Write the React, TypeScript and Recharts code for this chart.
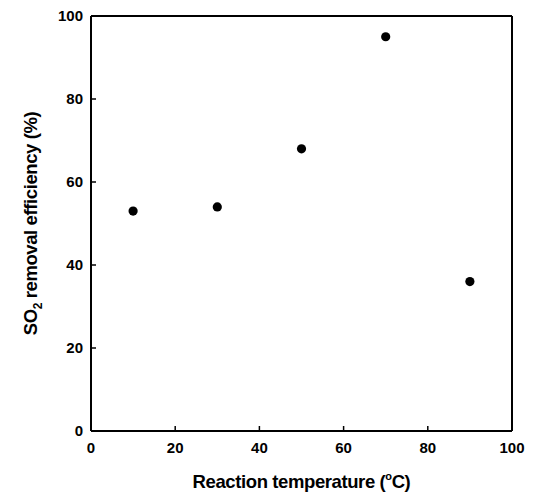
import React from 'react';
import { ScatterChart, Scatter, XAxis, YAxis, ReferenceLine, Label } from 'recharts';

const temperatures = [10, 30, 50, 70, 90];
const efficiencies = [53, 54, 68, 95, 36];
const xTicks = [0, 20, 40, 60, 80, 100];
const yTicks = [0, 20, 40, 60, 80, 100];

const data = temperatures.map((t, i) => ({ t, e: efficiencies[i] }));

const FONT = '"Liberation Sans", Arial, sans-serif';
const tickStyle = { fill: '#000', fontSize: 15, fontWeight: 700, fontFamily: FONT };

const Dot = (props: any) => {
  const { cx, cy } = props;
  return <circle cx={cx} cy={cy} r={4.6} fill="#000" />;
};

const XTitle = (props: any) => {
  const vb = props.viewBox;
  const cx = vb.x + vb.width / 2;
  const y = vb.y + 57;
  return (
    <text x={cx} y={y} textAnchor="middle" fontFamily={FONT} fontWeight={700} fontSize={18.5} fill="#000" letterSpacing={-0.4}>
      Reaction temperature (
      <tspan fontSize={11} dy={-8}>o</tspan>
      <tspan dy={8}>C)</tspan>
    </text>
  );
};

const YTitle = (props: any) => {
  const vb = props.viewBox;
  const x = 37;
  const cy = vb.y + vb.height / 2;
  return (
    <text x={x} y={cy} textAnchor="middle" transform={`rotate(-90, ${x}, ${cy})`} fontFamily={FONT} fontWeight={700} fontSize={18.5} fill="#000" letterSpacing={-0.4}>
      SO
      <tspan fontSize={12} dy={5}>2</tspan>
      <tspan dy={-5}> removal efficiency (%)</tspan>
    </text>
  );
};

export default function App() {
  return (
    <div style={{ position: 'absolute', left: 0, top: 0, background: '#fff' }}>
      <ScatterChart width={534} height={496} margin={{ top: 16, right: 22, bottom: 0, left: 0 }}>
        <XAxis
          type="number"
          dataKey="t"
          domain={[0, 100]}
          ticks={xTicks}
          height={65}
          axisLine={{ stroke: '#000', strokeWidth: 2 }}
          tickLine={{ stroke: '#000', strokeWidth: 1.5 }}
          tickSize={-5}
          tickMargin={16}
          tick={tickStyle}
          interval={0}
        >
          <Label content={<XTitle />} />
        </XAxis>
        <YAxis
          type="number"
          dataKey="e"
          domain={[0, 100]}
          ticks={yTicks}
          width={91}
          axisLine={{ stroke: '#000', strokeWidth: 2 }}
          tickLine={{ stroke: '#000', strokeWidth: 1.5 }}
          tickSize={-5}
          tickMargin={13}
          tick={tickStyle}
          interval={0}
        >
          <Label content={<YTitle />} />
        </YAxis>
        <ReferenceLine y={100} stroke="#000" strokeWidth={2} />
        <ReferenceLine x={100} stroke="#000" strokeWidth={2} />
        <Scatter data={data} shape={<Dot />} isAnimationActive={false} />
      </ScatterChart>
    </div>
  );
}
